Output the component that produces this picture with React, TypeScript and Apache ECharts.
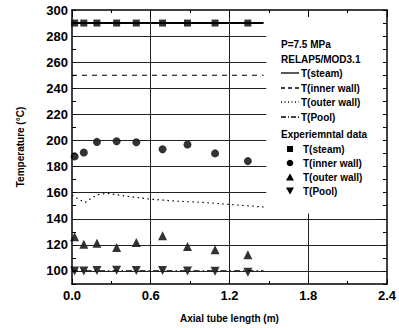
import React, { useEffect, useRef } from "react";
import * as echarts from "echarts";

const expX = [0.02, 0.09, 0.19, 0.34, 0.49, 0.69, 0.88, 1.09, 1.34];
const expSteam = [290, 290, 290, 290, 290, 290, 290, 290, 290];
const expInner = [187.8, 190.8, 198.9, 199.4, 198.6, 193.3, 196.9, 190.1, 184.2];
const expOuter = [126.2, 120.5, 121.3, 118.0, 121.8, 126.9, 118.8, 116.3, 112.5];
const expPool = [100, 100, 100.3, 100.5, 100.3, 100.3, 100, 99.7, 99];

const simSteam = [[0, 290], [1.46, 290]];
const simInner = [[0, 250], [1.46, 250]];
const simOuter = [
  [0, 158], [0.05, 155], [0.1, 152.5], [0.15, 156], [0.2, 158.5], [0.27, 159.5],
  [0.4, 157.5], [0.6, 155], [0.8, 153.5], [1.0, 152.5], [1.2, 151], [1.46, 149],
];
const simPool = [[0, 100], [1.46, 100]];

// horizontal grid lines: level and right end (legend box hides the rest)
const yGridLevels = [100, 120, 140, 160, 180, 200, 220, 240, 260, 280];
const yGridEnds = [2.4, 2.4, 2.4, 1.48, 1.48, 1.48, 1.48, 1.48, 1.48, 1.48];
// vertical grid lines: position and top end
const xGridLevels = [0.6, 1.2, 1.8];
const xGridTops = [300, 300, 144];

const FONT = "'Liberation Sans', Arial, sans-serif";

export default function App() {
  const ref = useRef<HTMLDivElement>(null);
  useEffect(() => {
    if (!ref.current) return;
    const chart = echarts.init(ref.current, null, { renderer: "svg" });
    const pair = (xs: number[], ys: number[]) => xs.map((x, i) => [x, ys[i]]);
    const lineSeries = (data: number[][], type: any, width: number) => ({
      type: "line",
      data,
      showSymbol: false,
      symbol: "none",
      smooth: false,
      lineStyle: { color: "#000", width, type },
      z: 2,
    });
    const scatter = (data: number[][], symbol: string, size: number, rotate = 0) => ({
      type: "scatter",
      data,
      symbol,
      symbolSize: size,
      symbolRotate: rotate,
      itemStyle: { color: "#000" },
      z: 4,
    });
    const legendText = (text: string, x: number, y: number) => ({
      type: "text",
      x,
      y,
      z: 11,
      style: {
        text,
        fill: "#000",
        font: `bold 10px ${FONT}`,
        verticalAlign: "middle",
      },
    });
    const legendLine = (y: number, dash: any) => ({
      type: "line",
      z: 11,
      shape: { x1: 281, y1: y, x2: 299, y2: y },
      style: { stroke: "#000", lineWidth: 1.3, lineDash: dash },
    });
    const triangle = (cx: number, cy: number, down: boolean) => ({
      type: "polygon",
      z: 11,
      shape: {
        points: down
          ? [[cx - 4, cy - 3.5], [cx + 4, cy - 3.5], [cx, cy + 3.5]]
          : [[cx - 4, cy + 3.5], [cx + 4, cy + 3.5], [cx, cy - 3.5]],
      },
      style: { fill: "#000" },
    });

    const gridLines = [
      ...yGridLevels.map((v, i) => [{ coord: [0, v] }, { coord: [yGridEnds[i], v] }]),
      ...xGridLevels.map((v, i) => [{ coord: [v, 90] }, { coord: [v, xGridTops[i]] }]),
    ];

    chart.setOption({
      animation: false,
      textStyle: { fontFamily: FONT },
      grid: { left: 72, right: 10, top: 10, bottom: 41 },
      xAxis: [
        {
          type: "value",
          min: 0,
          max: 2.4,
          interval: 0.6,
          z: 5,
          name: "Axial tube length (m)",
          nameLocation: "middle",
          nameGap: 29,
          nameTextStyle: { fontSize: 10, fontWeight: "bold", color: "#000", fontFamily: FONT },
          axisLine: { show: true, lineStyle: { color: "#000", width: 1.5 } },
          axisTick: { show: true, inside: true, length: 5, lineStyle: { color: "#000" } },
          minorTick: { show: true, splitNumber: 2, length: 3, lineStyle: { color: "#000" } },
          splitLine: { show: false },
          axisLabel: {
            fontSize: 13,
            fontWeight: "bold",
            color: "#000",
            margin: 5,
            fontFamily: FONT,
            formatter: (v: number) => v.toFixed(1),
          },
        },
        {
          type: "value",
          position: "top",
          min: 0,
          max: 2.4,
          interval: 0.6,
          z: 5,
          axisLine: { show: true, onZero: false, lineStyle: { color: "#000", width: 1.5 } },
          axisTick: { show: true, inside: true, length: 7, lineStyle: { color: "#000" } },
          minorTick: { show: true, splitNumber: 2, length: 3, lineStyle: { color: "#000" } },
          splitLine: { show: false },
          axisLabel: { show: false },
        },
      ],
      yAxis: [
        {
          type: "value",
          min: 90,
          max: 300,
          interval: 10,
          z: 5,
          name: "Temperature (°C)",
          nameLocation: "middle",
          nameGap: 47,
          nameTextStyle: { fontSize: 10, fontWeight: "bold", color: "#000", fontFamily: FONT },
          axisLine: { show: true, lineStyle: { color: "#000", width: 1.5 } },
          axisTick: { show: true, inside: true, length: 4, lineStyle: { color: "#000" } },
          splitLine: { show: false },
          axisLabel: {
            fontSize: 13,
            fontWeight: "bold",
            color: "#000",
            margin: 4,
            fontFamily: FONT,
            formatter: (v: number) => (v % 20 === 0 ? String(v) : ""),
          },
        },
        {
          type: "value",
          position: "right",
          min: 90,
          max: 300,
          interval: 10,
          z: 5,
          axisLine: { show: true, onZero: false, lineStyle: { color: "#000", width: 1.5 } },
          axisTick: { show: true, inside: true, length: 4, lineStyle: { color: "#000" } },
          splitLine: { show: false },
          axisLabel: { show: false },
        },
      ],
      series: [
        {
          type: "line",
          data: [],
          silent: true,
          markLine: {
            silent: true,
            symbol: "none",
            label: { show: false },
            lineStyle: { color: "#222", width: 1, type: "solid" },
            data: gridLines,
          },
          z: 1,
        },
        lineSeries(simSteam, "solid", 2),
        lineSeries(simInner, [5, 5], 1.2),
        lineSeries(simOuter, [1.5, 3.5], 1.2),
        lineSeries(simPool, [6, 3, 1.5, 3], 1.2),
        scatter(pair(expX, expSteam), "rect", 7),
        scatter(pair(expX, expInner), "circle", 8),
        scatter(pair(expX, expOuter), "triangle", 9),
        scatter(pair(expX, expPool), "triangle", 9, 180),
      ],
      graphic: [
        legendText("P=7.5 MPa", 281, 44),
        legendText("RELAP5/MOD3.1", 281, 59),
        legendLine(73, null),
        legendText("T(steam)", 301, 73),
        legendLine(88, [4, 3]),
        legendText("T(inner wall)", 301, 88),
        legendLine(102, [1, 2.5]),
        legendText("T(outer wall)", 301, 102),
        legendLine(117, [5, 2, 1, 2]),
        legendText("T(Pool)", 301, 117),
        legendText("Experiemntal data", 281, 134),
        { type: "rect", z: 11, shape: { x: 287, y: 146, width: 6, height: 6 }, style: { fill: "#000" } },
        legendText("T(steam)", 303, 149),
        { type: "circle", z: 11, shape: { cx: 290, cy: 163, r: 3.3 }, style: { fill: "#000" } },
        legendText("T(inner wall)", 303, 163),
        triangle(290, 177, false),
        legendText("T(outer wall)", 303, 177),
        triangle(290, 191, true),
        legendText("T(Pool)", 303, 191),
      ],
    });
    return () => chart.dispose();
  }, []);
  return <div ref={ref} style={{ width: 399, height: 328, position: "absolute", left: 0, top: 0 }} />;
}
